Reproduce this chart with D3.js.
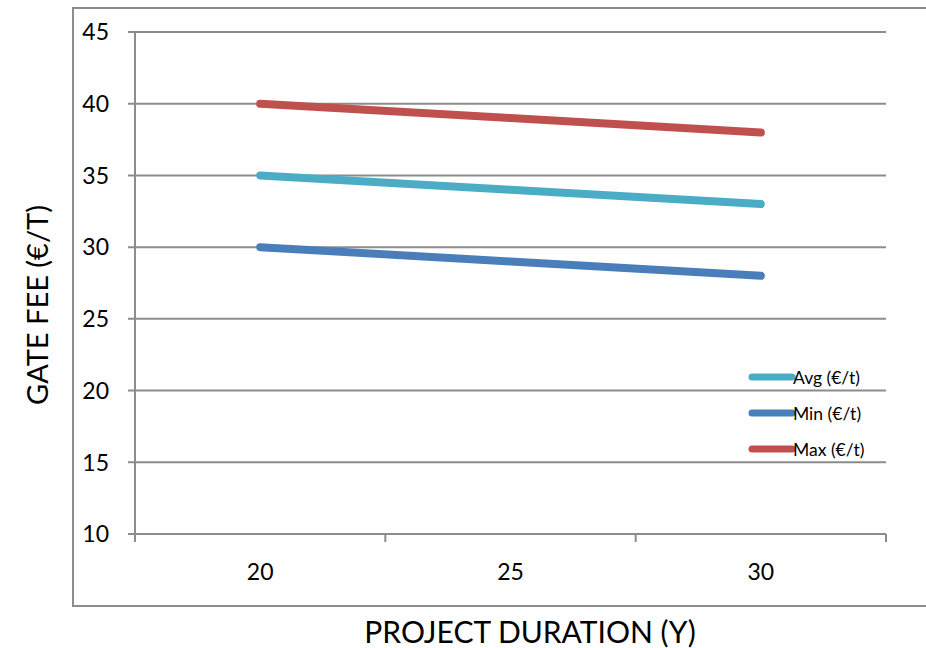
<!DOCTYPE html>
<html>
<head>
<meta charset="utf-8">
<script src="https://cdnjs.cloudflare.com/ajax/libs/d3/7.8.5/d3.min.js"></script>
<style>
  body { margin: 0; background: #fff; }
  text { font-family: Lato, "Open Sans", sans-serif; fill: #000; }
</style>
</head>
<body>
<div id="chart"></div>
<script>
var years = ["20", "25", "30"];
var avgFee = [35, 34, 33];
var minFee = [30, 29, 28];
var maxFee = [40, 39, 38];
var yTicks = [10, 15, 20, 25, 30, 35, 40, 45];

var series = [
    { name: "Avg (€/t)", values: avgFee, color: "#4BACC6" },
    { name: "Min (€/t)", values: minFee, color: "#4A7EBB" },
    { name: "Max (€/t)", values: maxFee, color: "#C0504D" }
];

var width = 926, height = 648;
var svg = d3.select("#chart").append("svg")
    .attr("width", width)
    .attr("height", height);

// outer chart frame
svg.append("rect")
    .attr("x", 73).attr("y", 8)
    .attr("width", 880).attr("height", 598)
    .attr("fill", "none")
    .attr("stroke", "#8c8c8c")
    .attr("stroke-width", 2);

var plotLeft = 135, plotRight = 886, plotTop = 32, plotBottom = 534;

var x = d3.scaleBand().domain(years).range([plotLeft, plotRight]);
var y = d3.scaleLinear().domain([10, 45]).range([plotBottom, plotTop]);

// gridlines
svg.append("g")
    .selectAll("line")
    .data(yTicks)
    .enter().append("line")
    .attr("x1", plotLeft - 7).attr("x2", plotRight)
    .attr("y1", function(d) { return y(d); })
    .attr("y2", function(d) { return y(d); })
    .attr("stroke", "#8c8c8c")
    .attr("stroke-width", 2);

// y axis line
svg.append("line")
    .attr("x1", plotLeft).attr("x2", plotLeft)
    .attr("y1", plotTop).attr("y2", plotBottom + 8)
    .attr("stroke", "#8c8c8c").attr("stroke-width", 2);

// x ticks at band edges
var edges = years.map(function(d) { return x(d); }).concat([plotRight]);
svg.append("g")
    .selectAll("line")
    .data(edges)
    .enter().append("line")
    .attr("x1", function(d) { return d; })
    .attr("x2", function(d) { return d; })
    .attr("y1", plotBottom).attr("y2", plotBottom + 8)
    .attr("stroke", "#8c8c8c").attr("stroke-width", 2);

// y tick labels
svg.append("g")
    .selectAll("text")
    .data(yTicks)
    .enter().append("text")
    .attr("x", 109)
    .attr("y", function(d) { return y(d); })
    .attr("dy", "0.36em")
    .attr("text-anchor", "end")
    .style("font-size", "23px")
    .text(function(d) { return d; });

// x tick labels
svg.append("g")
    .selectAll("text")
    .data(years)
    .enter().append("text")
    .attr("x", function(d) { return x(d) + x.bandwidth() / 2; })
    .attr("y", 580)
    .attr("text-anchor", "middle")
    .style("font-size", "23px")
    .text(function(d) { return d; });

// lines
var line = d3.line()
    .x(function(d, i) { return x(years[i]) + x.bandwidth() / 2; })
    .y(function(d) { return y(d); });

svg.append("g")
    .selectAll("path")
    .data([series[1], series[0], series[2]])
    .enter().append("path")
    .attr("d", function(s) { return line(s.values); })
    .attr("fill", "none")
    .attr("stroke", function(s) { return s.color; })
    .attr("stroke-width", 8)
    .attr("stroke-linecap", "round")
    .attr("stroke-linejoin", "round");

// legend
var legend = svg.append("g")
    .selectAll("g")
    .data(series)
    .enter().append("g")
    .attr("transform", function(d, i) { return "translate(752," + (377 + i * 36) + ")"; });

legend.append("line")
    .attr("x1", 0).attr("x2", 40)
    .attr("stroke", function(d) { return d.color; })
    .attr("stroke-width", 7)
    .attr("stroke-linecap", "round");

legend.append("text")
    .attr("x", 41)
    .attr("dy", "0.38em")
    .style("font-size", "17.5px")
    .text(function(d) { return d.name; });

// axis titles
svg.append("text")
    .attr("transform", "translate(48,305) rotate(-90)")
    .attr("text-anchor", "middle")
    .style("font-size", "29px")
    .text("GATE FEE (€/T)");

svg.append("text")
    .attr("x", 530)
    .attr("y", 643)
    .attr("text-anchor", "middle")
    .style("font-size", "30px")
    .text("PROJECT DURATION (Y)");
</script>
</body>
</html>
